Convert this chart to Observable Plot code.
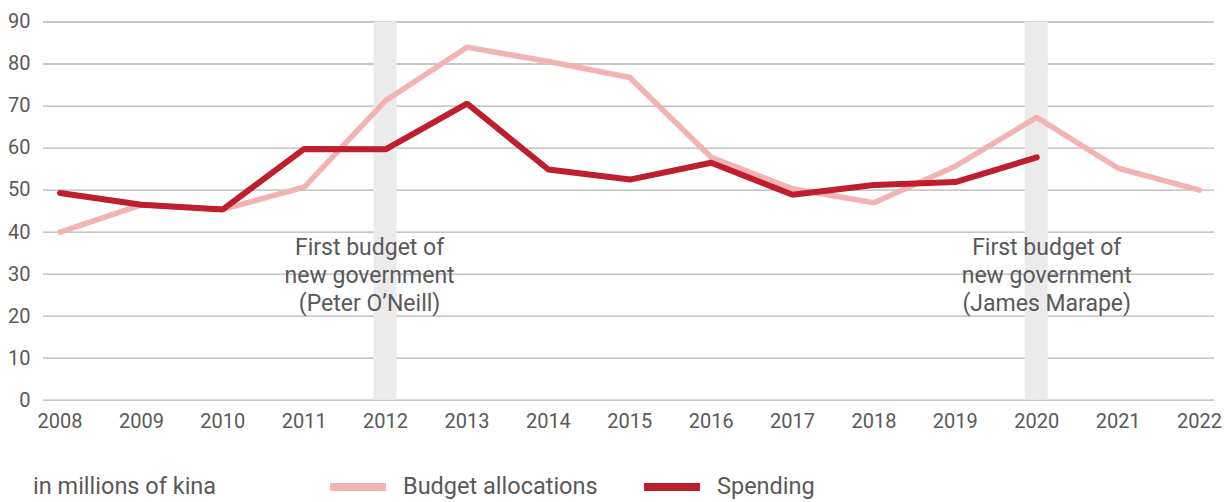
<!DOCTYPE html>
<html>
<head>
<meta charset="utf-8">
<script src="https://cdn.jsdelivr.net/npm/d3@7"></script>
<script src="https://cdn.jsdelivr.net/npm/@observablehq/plot@0.6"></script>
<style>
  body { margin: 0; background: #fff; font-family: Roboto, "Noto Sans", sans-serif; }
  #chart svg { display: block; }
  #legend { position: relative; height: 40px; margin-top: 22px; color: #595959; font-size: 23.5px; }
  #legend > span { position: absolute; top: 50%; transform: translateY(-50%); white-space: nowrap; line-height: 1; }
  .sw { width: 56px; height: 8px; }
</style>
</head>
<body>
<div id="chart"></div>
<div id="legend">
  <span style="left:33px;">in millions of kina</span>
  <span class="sw" style="left:330px; background:#f2b3b3"></span><span style="left:403px;">Budget allocations</span>
  <span class="sw" style="left:644px; background:#be1e2d"></span><span style="left:717px;">Spending</span>
</div>
<script>
const years = [2008, 2009, 2010, 2011, 2012, 2013, 2014, 2015, 2016, 2017, 2018, 2019, 2020, 2021, 2022];
const budgetAllocations = [40, 46.5, 45.4, 50.7, 71.3, 84.0, 80.6, 76.8, 57.8, 50.3, 47.0, 55.7, 67.3, 55.2, 50.0];
const spendingYears = [2008, 2009, 2010, 2011, 2012, 2013, 2014, 2015, 2016, 2017, 2018, 2019, 2020];
const spending = [49.3, 46.5, 45.4, 59.8, 59.7, 70.6, 54.9, 52.5, 56.5, 48.9, 51.2, 51.9, 57.8];
const yTicks = [0, 10, 20, 30, 40, 50, 60, 70, 80, 90];
const bandYears = [2012, 2020];
const annotations = ["First budget of\nnew government\n(Peter O\u2019Neill)", "First budget of\nnew government\n(James Marape)"];

const budgetData = years.map((y, i) => ({year: y, value: budgetAllocations[i]}));
const spendData = spendingYears.map((y, i) => ({year: y, value: spending[i]}));
const annData = bandYears.map((y, i) => ({year: y, text: annotations[i]}));

const chart = Plot.plot({
  width: 1227,
  height: 445,
  marginLeft: 43,
  marginRight: 13,
  marginTop: 21.5,
  marginBottom: 45.3,
  style: {fontFamily: "Roboto, 'Noto Sans', sans-serif", color: "#595959", background: "#fff"},
  x: {domain: [2008 - 0.203, 2022 + 0.184], ticks: years, tickFormat: d => String(d)},
  y: {domain: [0, 90], ticks: yTicks},
  marks: [
    Plot.ruleY(yTicks, {stroke: "#b5b5b5", strokeWidth: 1.3}),
    Plot.rect(bandYears, {x1: d => d - 0.141, x2: d => d + 0.141, y1: 0, y2: 90, fill: "#ebebeb"}),
    Plot.text([annData[0]], {x: "year", y: 30, text: "text", dx: -16, fontSize: 23, lineHeight: 1.22, fill: "#595959", lineAnchor: "middle"}),
    Plot.text([annData[1]], {x: "year", y: 30, text: "text", dx: 10, fontSize: 23, lineHeight: 1.22, fill: "#595959", lineAnchor: "middle"}),
    Plot.line(budgetData, {x: "year", y: "value", stroke: "#f2b3b3", strokeWidth: 5.5, strokeLinejoin: "miter", strokeLinecap: "round"}),
    Plot.line(spendData, {x: "year", y: "value", stroke: "#be1e2d", strokeWidth: 6, strokeLinejoin: "miter", strokeLinecap: "round"}),
    Plot.axisY({ticks: yTicks, tickSize: 0, tickPadding: 13, fontSize: 20, label: null}),
    Plot.axisX({ticks: years, tickSize: 0, tickPadding: 14, fontSize: 20, label: null, tickFormat: d => String(d)})
  ]
});
document.getElementById("chart").appendChild(chart);
</script>
</body>
</html>
